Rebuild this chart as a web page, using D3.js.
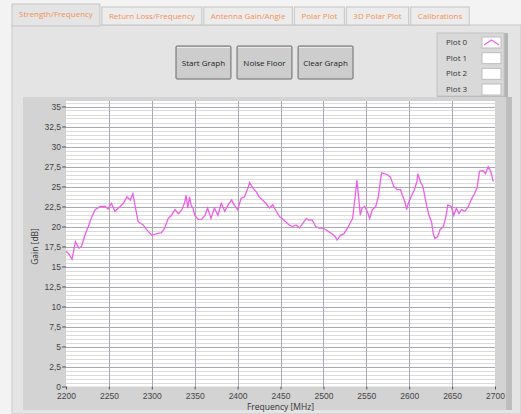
<!DOCTYPE html>
<head>
  <meta charset="utf-8">
  <style>
    body { margin: 0; background: #f3f3f3; }
    svg { display: block; font-family: "Open Sans", "Noto Sans", sans-serif; }
    .axis path { display: none; }
    .axis line { stroke: #555; }
    .axis text { fill: #444; font-size: 8.5px; }
  </style>
  <script src="https://cdn.jsdelivr.net/npm/d3@7"></script>
</head>
<body>
<svg id=chart width="521" height="414"></svg>
<script>
// tab and legend labels
const tabs = ['Strength/Frequency', 'Return Loss/Frequency', 'Antenna Gain/Angle', 'Polar Plot', '3D Polar Plot', 'Calibrations']
const buttons = ['Start Graph', 'Noise Floor', 'Clear Graph']
const plots = ['Plot 0', 'Plot 1', 'Plot 2', 'Plot 3']

// axis ticks
const yTicks = d3.range(0, 35.01, 2.5)
const xTicks = d3.range(2200, 2701, 50)

// plot 0
const freq = [2200, 2203, 2207, 2211, 2215, 2218, 2222, 2226, 2230, 2234, 2240, 2246, 2249, 2253, 2257, 2263,
  2267, 2271, 2275, 2278, 2280, 2284, 2290, 2294, 2300, 2306, 2311, 2315, 2319, 2323, 2327, 2331,
  2335, 2338, 2340, 2342, 2344, 2346, 2348, 2350, 2354, 2358, 2362, 2365, 2369, 2373, 2377, 2381,
  2385, 2389, 2393, 2396, 2400, 2404, 2408, 2412, 2414, 2418, 2422, 2425, 2429, 2433, 2437, 2441,
  2445, 2449, 2452, 2456, 2460, 2464, 2468, 2472, 2476, 2480, 2483, 2487, 2491, 2495, 2499, 2503,
  2507, 2510, 2514, 2516, 2520, 2524, 2528, 2532, 2534, 2537, 2539, 2541, 2543, 2545, 2548, 2551,
  2554, 2557, 2561, 2564, 2567, 2568, 2574, 2578, 2582, 2586, 2590, 2592, 2595, 2597, 2599, 2603,
  2606, 2609, 2610, 2613, 2616, 2619, 2623, 2626, 2628, 2630, 2633, 2636, 2640, 2643, 2645, 2649,
  2652, 2655, 2658, 2661, 2665, 2669, 2672, 2676, 2679, 2682, 2686, 2689, 2692, 2695, 2698]
const gain = [16.9, 16.6, 15.9, 18.1, 17.3, 17.5, 18.9, 20.0, 21.2, 22.1, 22.5, 22.5, 22.2, 22.9, 21.9, 22.5,
  22.9, 23.7, 23.3, 24.1, 22.9, 20.6, 20.2, 19.6, 18.9, 19.1, 19.2, 19.8, 21.0, 21.4, 22.1, 21.6,
  22.1, 22.9, 23.9, 22.3, 23.7, 22.6, 22.3, 21.4, 20.9, 20.9, 21.4, 22.3, 21.0, 22.3, 21.4, 22.9,
  21.9, 22.7, 23.3, 22.7, 22.1, 23.5, 23.7, 24.8, 25.5, 24.8, 24.3, 23.7, 23.3, 22.9, 22.3, 22.7,
  21.9, 21.2, 21.0, 20.6, 20.2, 20.0, 20.2, 19.8, 20.4, 21.0, 20.8, 20.8, 20.0, 19.8, 19.8, 19.6,
  19.3, 19.1, 18.7, 18.3, 18.9, 19.1, 19.8, 20.6, 21.0, 23.7, 25.8, 23.7, 21.4, 22.3, 22.5, 21.9,
  21.0, 22.1, 22.5, 23.7, 26.2, 26.7, 26.5, 26.2, 25.0, 24.6, 24.6, 23.9, 23.1, 22.1, 22.9, 23.9,
  24.6, 25.6, 26.6, 25.6, 25.0, 23.3, 21.4, 20.6, 19.1, 18.5, 18.7, 19.6, 20.0, 21.4, 22.7, 22.5,
  21.4, 22.3, 21.6, 22.1, 21.9, 22.5, 23.3, 24.1, 24.8, 26.9, 27.0, 26.6, 27.5, 26.9, 25.6]

const svg = d3.select('#chart')
const orange = '#f0925a'

// tab panel body
svg.append('rect').attr('x', 12).attr('y', 25).attr('width', 509).attr('height', 389).attr('fill', '#e4e4e4')
  .attr('stroke', '#c9c9c9')

// tabs
let tx = 12
tabs.forEach((t, i) => {
  const g = svg.append('g')
  const active = i === 0
  const text = g.append('text').attr('font-size', 8).attr('fill', orange).text(t)
  const w = text.node().getComputedTextLength() + 14
  const top = active ? 4 : 7
  g.insert('rect', 'text').attr('x', tx).attr('y', top).attr('width', w).attr('height', 25 - top + (active ? 1 : 0))
    .attr('fill', active ? '#e4e4e4' : '#ececec').attr('stroke', '#c4c4c4')
  text.attr('x', tx + 7).attr('y', active ? 17 : 19)
  tx += w + 2
})

// buttons
const btnX = d3.scaleBand().domain(buttons).range([176, 353]).paddingInner(0.1)
buttons.forEach(b => {
  svg.append('rect').attr('x', btnX(b)).attr('y', 46).attr('width', btnX.bandwidth()).attr('height', 33)
    .attr('fill', '#cdcdcd').attr('stroke', '#6a6a6a').attr('rx', 1)
  svg.append('line').attr('x1', btnX(b) + 1).attr('x2', btnX(b) + btnX.bandwidth() - 1).attr('y1', 47.5).attr('y2', 47.5)
    .attr('stroke', '#eaeaea')
  svg.append('text').attr('x', btnX(b) + btnX.bandwidth() / 2).attr('y', 66).attr('text-anchor', 'middle')
    .attr('font-size', 8).attr('fill', '#222').text(b)
})

// legend
svg.append('rect').attr('x', 437).attr('y', 33).attr('width', 71).attr('height', 66).attr('fill', '#b4b4b4')
svg.append('rect').attr('x', 437).attr('y', 33).attr('width', 67).attr('height', 63).attr('fill', '#d9d9d9')
  .attr('stroke', '#c2c2c2')
const legY = d3.scalePoint().domain(plots).range([42, 89])
plots.forEach((p, i) => {
  svg.append('text').attr('x', 446).attr('y', legY(p) + 3).attr('font-size', 8).attr('fill', '#333').text(p)
  svg.append('rect').attr('x', 482).attr('y', legY(p) - 5).attr('width', 19).attr('height', 11)
    .attr('fill', '#fff').attr('stroke', '#bdbdbd')
  if (i === 0) {
    svg.append('path').attr('d', `M484,${legY(p) + 3}L491.5,${legY(p) - 2}L499,${legY(p) + 3}`)
      .attr('fill', 'none').attr('stroke', '#ee5fe8').attr('stroke-width', 1.2)
  }
})

// graph frame
svg.append('rect').attr('x', 23).attr('y', 97).attr('width', 489).attr('height', 313).attr('fill', '#d3d3d3')
svg.append('rect').attr('x', 506).attr('y', 97).attr('width', 6).attr('height', 313).attr('fill', '#bdbdbd')

const x = d3.scaleLinear().domain([2200, 2700]).range([66, 495])
const y = d3.scaleLinear().domain([0, 35]).range([386.5, 106.5])

svg.append('rect').attr('x', x(2200)).attr('y', 101).attr('width', x(2700) - x(2200)).attr('height', y(0) - 101)
  .attr('fill', '#fff')

// minor then major grid
svg.append('g').selectAll('line').data(d3.range(0.5, 35.6, 0.5)).join('line')
  .attr('x1', x(2200)).attr('x2', x(2700)).attr('y1', d => Math.round(y(d)) + 0.5).attr('y2', d => Math.round(y(d)) + 0.5)
  .attr('stroke', '#dcdcdc')
svg.append('g').selectAll('line').data(yTicks.slice(1)).join('line')
  .attr('x1', x(2200)).attr('x2', x(2700)).attr('y1', d => Math.round(y(d)) + 0.5).attr('y2', d => Math.round(y(d)) + 0.5)
  .attr('stroke', '#a9a9b6')
svg.append('g').selectAll('line').data(xTicks.slice(1, -1)).join('line')
  .attr('x1', d => Math.round(x(d)) + 0.5).attr('x2', d => Math.round(x(d)) + 0.5).attr('y1', 101).attr('y2', y(0))
  .attr('stroke', '#a9a9b6')

// axes
svg.append('g').attr('class', 'axis').attr('transform', `translate(${x(2200)},0)`)
  .call(d3.axisLeft(y).tickValues(yTicks).tickSize(4).tickPadding(1).tickFormat(d => String(d).replace('.', ',')))
svg.append('g').attr('class', 'axis').attr('transform', `translate(0,${y(0)})`)
  .call(d3.axisBottom(x).tickValues(xTicks).tickSize(3).tickPadding(3).tickFormat(d3.format('d')))

svg.append('text').attr('x', (x(2200) + x(2700)) / 2).attr('y', 410).attr('text-anchor', 'middle')
  .attr('font-size', 8.5).attr('fill', '#333').text('Frequency [MHz]')
svg.append('text').attr('transform', `translate(38,${(y(0) + y(35)) / 2}) rotate(-90)`).attr('text-anchor', 'middle')
  .attr('font-size', 8.5).attr('fill', '#333').text('Gain [dB]')

// plot 0
svg.append('path').datum(d3.zip(freq, gain))
  .attr('d', d3.line().x(d => x(d[0])).y(d => y(d[1])))
  .attr('fill', 'none').attr('stroke', '#ee5fe8').attr('stroke-width', 1.3)
</script>
</body>
